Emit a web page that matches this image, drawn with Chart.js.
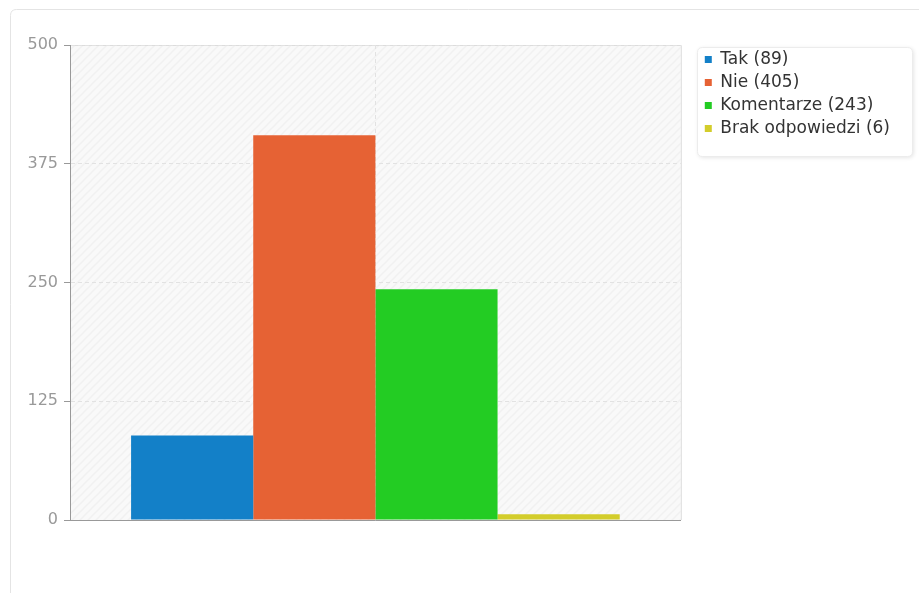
<!DOCTYPE html>
<html>
<head>
<meta charset="utf-8">
<script src="https://cdn.jsdelivr.net/npm/chart.js@4.4.1/dist/chart.umd.min.js"></script>
<style>
  html, body { margin: 0; padding: 0; background: #fff; }
  #wrap { width: 919px; height: 593px; }
</style>
</head>
<body>
<div id="wrap"><canvas id="chart" width="919" height="593"></canvas></div>
<script>
// dane z wykresu
const categories = [''];
const seriesNames = ['Tak (89)', 'Nie (405)', 'Komentarze (243)', 'Brak odpowiedzi (6)'];
const seriesValues = [89, 405, 243, 6];
const seriesColors = ['#1380c8', '#e66234', '#23cc23', '#d3cd2b'];
const yTicks = [0, 125, 250, 375, 500];

const ctx = document.getElementById('chart').getContext('2d');

// deseń w ukośne paski dla tła wykresu
function makeHatch() {
  const c = document.createElement('canvas');
  c.width = 8; c.height = 8;
  const g = c.getContext('2d');
  g.fillStyle = '#f9f9f9';
  g.fillRect(0, 0, 8, 8);
  g.strokeStyle = '#f1f1f1';
  g.lineWidth = 1.5;
  g.beginPath();
  g.moveTo(-2, 10); g.lineTo(10, -2);
  g.moveTo(-2, 2); g.lineTo(2, -2);
  g.moveTo(6, 10); g.lineTo(10, 6);
  g.stroke();
  return ctx.createPattern(c, 'repeat');
}

function roundRect(g, x, y, w, h, r) {
  g.beginPath();
  g.moveTo(x + r, y);
  g.lineTo(x + w - r, y);
  g.quadraticCurveTo(x + w, y, x + w, y + r);
  g.lineTo(x + w, y + h - r);
  g.quadraticCurveTo(x + w, y + h, x + w - r, y + h);
  g.lineTo(x + r, y + h);
  g.quadraticCurveTo(x, y + h, x, y + h - r);
  g.lineTo(x, y + r);
  g.quadraticCurveTo(x, y, x + r, y);
  g.closePath();
}

const LEGEND_SHIFT = 18;

// ramka, tło obszaru wykresu i ramka legendy
const decor = {
  id: 'decor',
  afterLayout(chart) {
    // odsunięcie legendy od obszaru wykresu
    chart.legend.left += LEGEND_SHIFT;
    chart.legend.right += LEGEND_SHIFT;
  },
  beforeDraw(chart) {
    const g = chart.ctx;
    const a = chart.chartArea;
    g.save();
    // zewnętrzna ramka
    g.strokeStyle = '#e4e4e4';
    g.lineWidth = 1;
    roundRect(g, 10.5, 9.5, 940, 620, 6);
    g.stroke();
    // tło
    g.fillStyle = makeHatch();
    g.fillRect(a.left, a.top, a.right - a.left, a.bottom - a.top);
    g.strokeStyle = '#dcdcdc';
    g.beginPath();
    g.moveTo(a.left, a.top + 0.5); g.lineTo(a.right + 0.5, a.top + 0.5);
    g.lineTo(a.right + 0.5, a.bottom);
    g.stroke();
    // legenda
    g.shadowColor = 'rgba(0,0,0,0.12)';
    g.shadowBlur = 4;
    g.shadowOffsetX = 1;
    g.shadowOffsetY = 1;
    g.fillStyle = '#fff';
    roundRect(g, 697.5, 47.5, 215, 109, 5);
    g.fill();
    g.shadowColor = 'transparent';
    g.strokeStyle = '#ececec';
    g.stroke();
    g.restore();
  }
};

new Chart(ctx, {
  type: 'bar',
  data: {
    labels: categories,
    datasets: seriesNames.map((name, i) => ({
      label: name,
      data: [seriesValues[i]],
      backgroundColor: seriesColors[i],
      borderWidth: 0,
      categoryPercentage: 0.8,
      barPercentage: 1
    }))
  },
  options: {
    responsive: false,
    animation: false,
    layout: { padding: { left: 10, top: 45, right: 37, bottom: 73 } },
    plugins: {
      tooltip: { enabled: false },
      legend: {
        position: 'right',
        align: 'start',
        labels: {
          color: '#333',
          font: { family: 'DejaVu Sans', size: 17 },
          boxWidth: 7,
          boxHeight: 7,
          padding: 6
        }
      }
    },
    scales: {
      x: {
        grid: { offset: false, color: '#e2e2e2', drawTicks: false },
        border: { color: '#999', width: 1, dash: [4, 3] },
        ticks: { display: false },
        afterFit(scale) { scale.height = 0; }
      },
      y: {
        min: 0,
        max: 500,
        afterBuildTicks(scale) { scale.ticks = yTicks.map(v => ({ value: v })); },
        grid: { color: '#e2e2e2', tickColor: '#999', tickLength: 6, tickBorderDash: [] },
        border: { color: '#999', width: 1, dash: [4, 3] },
        ticks: { color: '#999', font: { family: 'DejaVu Sans', size: 16 }, padding: 6 },
        afterFit(scale) { scale.width = 60; }
      }
    }
  },
  plugins: [decor]
});
</script>
</body>
</html>
